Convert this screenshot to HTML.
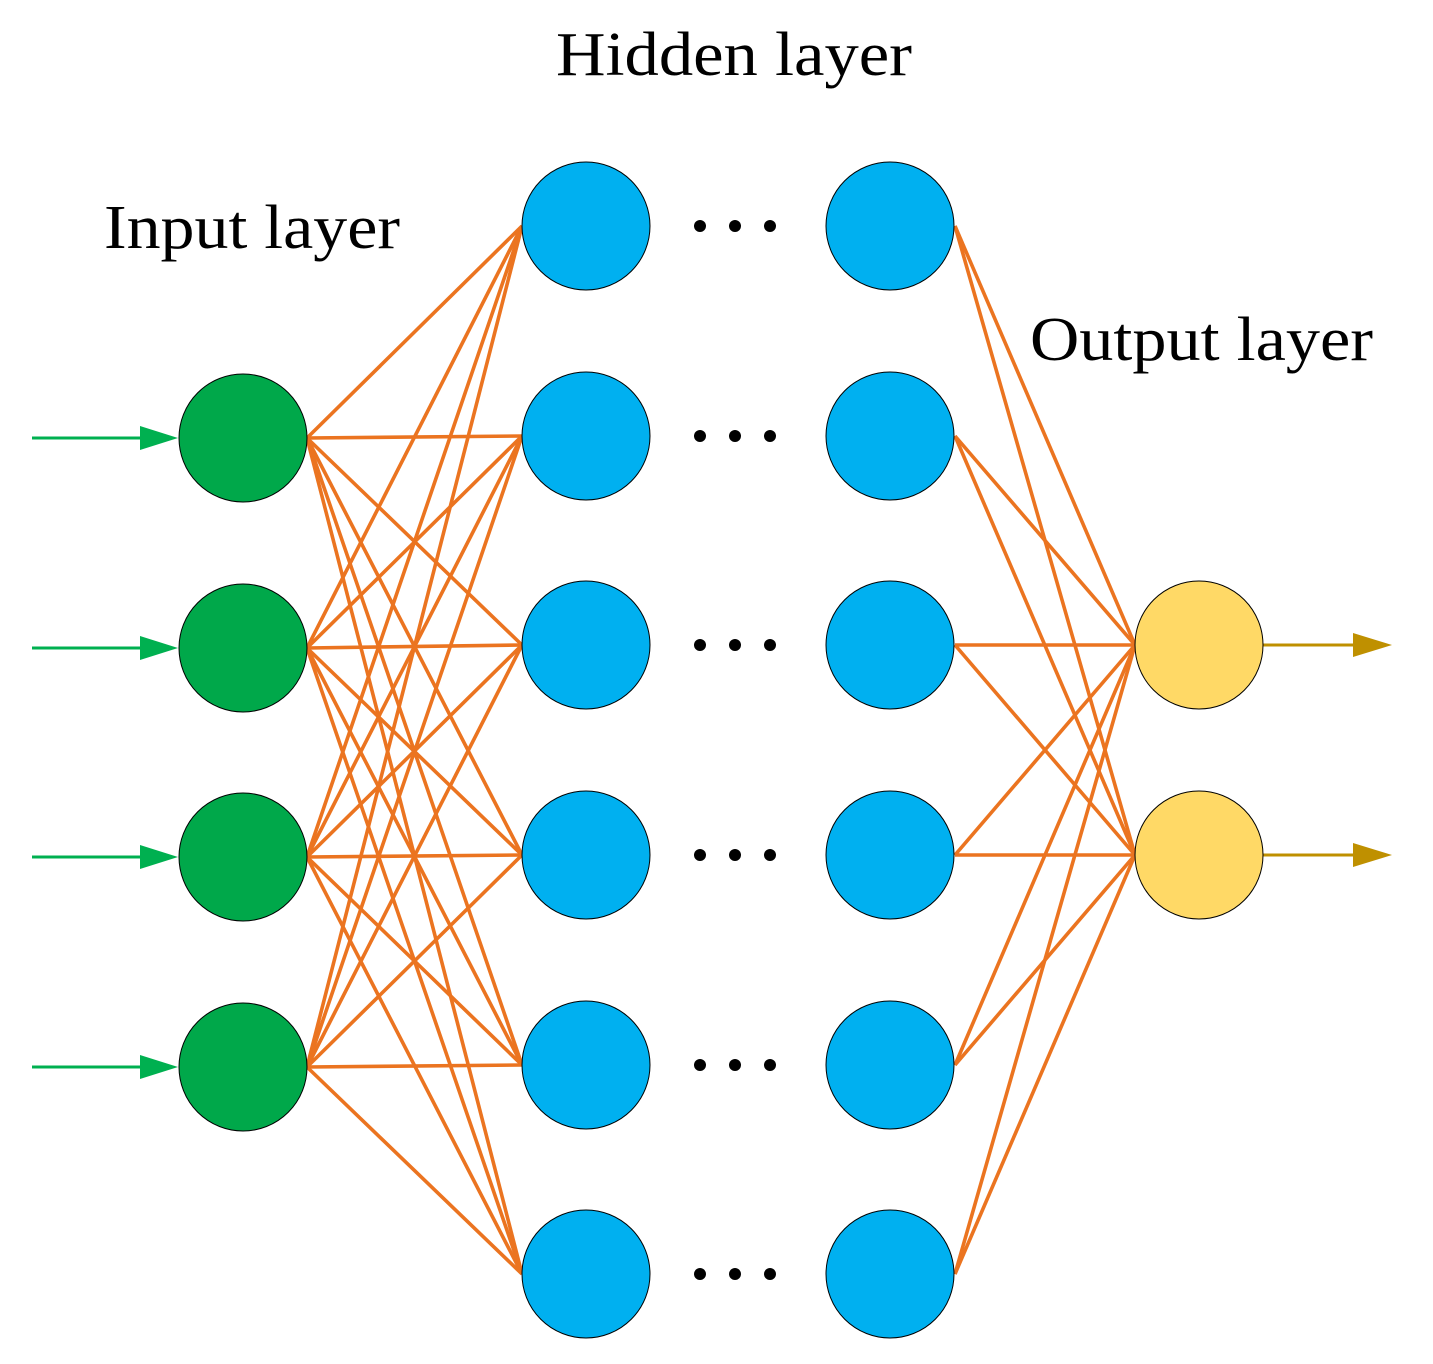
<!DOCTYPE html>
<html><head><meta charset="utf-8"><style>html,body{margin:0;padding:0;background:#fff}svg{display:block}</style></head><body>
<svg width="1433" height="1364" viewBox="0 0 1433 1364" xmlns="http://www.w3.org/2000/svg">
<g font-family="Liberation Serif, serif" font-size="62" fill="#000">
<text x="556" y="75" textLength="356" lengthAdjust="spacingAndGlyphs">Hidden layer</text>
<text x="104" y="248" textLength="296" lengthAdjust="spacingAndGlyphs">Input layer</text>
<text x="1030" y="360" textLength="343" lengthAdjust="spacingAndGlyphs">Output layer</text>
</g>
<g stroke="#EB7420" stroke-width="3.6" fill="none" id="lines"></g>
<g id="arrows"></g>
<g id="nodes"></g>
<script>
var ns="http://www.w3.org/2000/svg";
function el(t,a,p){var e=document.createElementNS(ns,t);for(var k in a)e.setAttribute(k,a[k]);document.getElementById(p).appendChild(e);return e;}
var iy=[438,648,857,1067], hy=[226,436,645,855,1065,1274], oy=[645,855];
iy.forEach(function(a){hy.forEach(function(b){el('line',{x1:307,y1:a,x2:522,y2:b},'lines');});});
hy.forEach(function(a){oy.forEach(function(b){el('line',{x1:955,y1:a,x2:1135,y2:b},'lines');});});
iy.forEach(function(y){
 el('line',{x1:32,y1:y,x2:150,y2:y,stroke:'#00B050','stroke-width':3},'arrows');
 el('path',{d:'M140,'+(y-12)+' L178,'+y+' L140,'+(y+12)+' z',fill:'#00B050'},'arrows');
 el('circle',{cx:243,cy:y,r:64,fill:'#00A84A',stroke:'#000','stroke-width':1},'nodes');
});
hy.forEach(function(y){
 el('circle',{cx:586,cy:y,r:64,fill:'#00B0F0',stroke:'#000','stroke-width':1},'nodes');
 el('circle',{cx:890,cy:y,r:64,fill:'#00B0F0',stroke:'#000','stroke-width':1},'nodes');
 [700,735,770].forEach(function(x){el('circle',{cx:x,cy:y,r:6,fill:'#000'},'nodes');});
});
oy.forEach(function(y){
 el('line',{x1:1263,y1:y,x2:1360,y2:y,stroke:'#BF9000','stroke-width':3},'arrows');
 el('path',{d:'M1353,'+(y-12)+' L1392,'+y+' L1353,'+(y+12)+' z',fill:'#BF9000'},'arrows');
 el('circle',{cx:1199,cy:y,r:64,fill:'#FFD966',stroke:'#000','stroke-width':1},'nodes');
});
</script>
</svg>
</body></html>
